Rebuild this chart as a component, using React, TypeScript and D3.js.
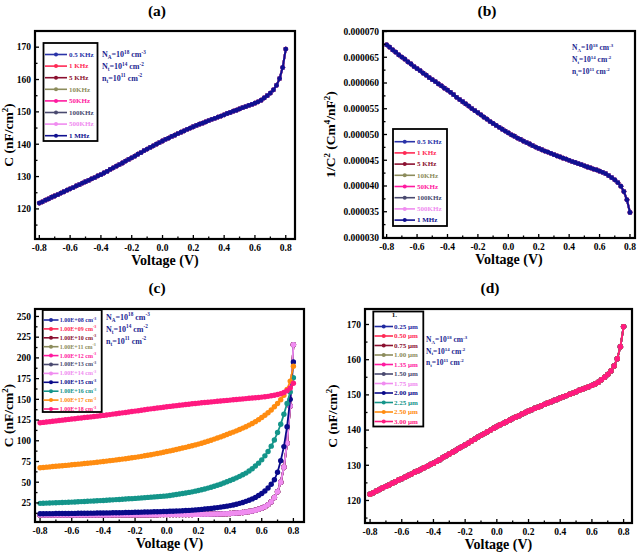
import React from 'react';
import * as d3 from 'd3';

const FONT = '"Liberation Serif", "Times New Roman", serif';

// ---------- DATA ----------
// bias voltage grid (V), step 0.02 from -0.8 to 0.8
const voltage: number[] = d3.range(81).map((i) => +(-0.8 + 0.02 * i).toFixed(2));

// C (nF/cm2) for the base cell (panels a, d and NA=1e18 in c)
const capBase: number[] = [
  121.8, 122.2, 122.7, 123.1, 123.6, 124.0, 124.4, 124.9, 125.3, 125.8,
  126.2, 126.6, 127.1, 127.5, 128.0, 128.4, 128.8, 129.3, 129.7, 130.2,
  130.6, 131.1, 131.6, 132.2, 132.7, 133.2, 133.7, 134.2, 134.8, 135.3,
  135.8, 136.3, 136.9, 137.4, 138.0, 138.5, 139.0, 139.5, 140.0, 140.5,
  141.0, 141.5, 141.9, 142.4, 142.8, 143.3, 143.7, 144.1, 144.6, 145.0,
  145.4, 145.8, 146.2, 146.5, 146.9, 147.3, 147.7, 148.0, 148.4, 148.7,
  149.1, 149.5, 149.8, 150.2, 150.5, 150.9, 151.3, 151.6, 152.0, 152.3,
  152.7, 153.1, 153.6, 154.3, 155.0, 155.8, 156.8, 158.2, 160.3, 163.7,
  169.4,
];
const cap1e17: number[] = [
  67.5, 67.8, 68.2, 68.5, 68.9, 69.2, 69.6, 69.9, 70.3, 70.6,
  71.0, 71.4, 71.8, 72.1, 72.5, 72.9, 73.3, 73.7, 74.1, 74.6,
  75.0, 75.5, 76.0, 76.4, 76.9, 77.4, 77.9, 78.4, 78.9, 79.5,
  80.0, 80.6, 81.2, 81.9, 82.5, 83.2, 83.9, 84.7, 85.4, 86.2,
  87.0, 87.8, 88.6, 89.4, 90.3, 91.2, 92.1, 93.1, 94.0, 95.0,
  96.0, 97.1, 98.3, 99.5, 100.7, 102.0, 103.3, 104.7, 106.1, 107.5,
  109.0, 110.5, 112.0, 113.6, 115.3, 117.0, 118.9, 120.9, 123.1, 125.5,
  128.0, 130.8, 133.8, 137.2, 141.0, 145.0, 149.5, 155.0, 162.0, 172.0,
  190.0,
];
const cap1e16: number[] = [
  24.5, 24.6, 24.8, 24.9, 25.1, 25.2, 25.4, 25.5, 25.7, 25.8,
  26.0, 26.2, 26.4, 26.6, 26.8, 27.0, 27.2, 27.4, 27.6, 27.8,
  28.0, 28.2, 28.5, 28.7, 29.0, 29.2, 29.5, 29.7, 30.0, 30.2,
  30.5, 30.8, 31.1, 31.4, 31.7, 32.0, 32.3, 32.6, 32.9, 33.2,
  33.5, 34.0, 34.5, 35.1, 35.7, 36.3, 37.0, 37.7, 38.4, 39.2,
  40.0, 40.9, 41.9, 42.9, 44.0, 45.1, 46.3, 47.6, 49.0, 50.5,
  52.0, 53.6, 55.3, 57.1, 59.0, 61.0, 63.5, 66.2, 69.5, 73.0,
  77.0, 81.8, 87.0, 93.5, 101.0, 110.0, 120.0, 132.0, 145.0, 159.0,
  176.0,
];
const cap1e15: number[] = [
  12.0, 12.0, 12.1, 12.1, 12.1, 12.2, 12.2, 12.2, 12.3, 12.3,
  12.4, 12.4, 12.5, 12.5, 12.6, 12.6, 12.7, 12.7, 12.8, 12.8,
  12.9, 13.0, 13.0, 13.1, 13.2, 13.2, 13.3, 13.4, 13.5, 13.6,
  13.7, 13.8, 13.9, 14.0, 14.1, 14.2, 14.3, 14.4, 14.5, 14.6,
  14.7, 14.9, 15.0, 15.2, 15.4, 15.6, 15.8, 16.0, 16.3, 16.6,
  16.9, 17.2, 17.6, 18.0, 18.4, 18.9, 19.4, 19.9, 20.5, 21.1,
  21.8, 22.6, 23.5, 24.5, 25.6, 26.9, 28.3, 29.9, 31.7, 33.9,
  36.4, 39.4, 43.0, 47.5, 53.0, 62.0, 76.0, 93.0, 117.0, 150.0,
  195.0,
];
// NA = 1e8 ... 1e14 cm-3 (curves coincide)
const capLow: number[] = [
  10.5, 10.5, 10.5, 10.5, 10.5, 10.5, 10.5, 10.5, 10.5, 10.5,
  10.5, 10.5, 10.5, 10.5, 10.5, 10.5, 10.5, 10.5, 10.5, 10.5,
  10.5, 10.5, 10.5, 10.6, 10.6, 10.6, 10.6, 10.6, 10.7, 10.7,
  10.7, 10.7, 10.7, 10.8, 10.8, 10.8, 10.8, 10.8, 10.9, 10.9,
  10.9, 10.9, 11.0, 11.0, 11.0, 11.0, 11.1, 11.1, 11.1, 11.2,
  11.2, 11.3, 11.3, 11.4, 11.5, 11.6, 11.7, 11.8, 11.9, 12.1,
  12.3, 12.5, 12.8, 13.1, 13.5, 14.0, 14.6, 15.3, 16.2, 17.3,
  18.7, 20.5, 23.0, 26.5, 31.5, 38.5, 50.0, 68.0, 97.0, 142.0,
  216.0,
];
// 1/C^2 of the base cell (panel b)
const invC2: number[] = capBase.map((c) => 1 / (c * c));

// legends
const freqLabels = ['0.5 KHz', '1 KHz', '5 KHz', '10KHz', '50KHz', '100KHz', '500KHz', '1 MHz'];
const freqColors = ['#2a33a8', '#ff2a55', '#8b1030', '#8c8c5c', '#ff1aa0', '#4a4a70', '#f08cf0', '#101090'];
const dopExps = ['08', '09', '10', '11', '12', '13', '14', '15', '16', '17', '18'];
const dopColors = ['#1f2aa0', '#ff2a55', '#8b1030', '#8c8c5c', '#ff1aa0', '#4a4a70', '#f08cf0', '#0a0a8a', '#14958a', '#ff8c10', '#ff1a80'];
const thickLabels = ['0.25 µm', '0.50 µm', '0.75 µm', '1.00 µm', '1.35 µm', '1.50 µm', '1.75 µm', '2.00 µm', '2.25 µm', '2.50 µm', '3.00 µm'];
const thickColors = ['#1f2aa0', '#ff2a55', '#8b1030', '#8c8c5c', '#ff1aa0', '#4a4a70', '#f08cf0', '#0a0a8a', '#14958a', '#ff8c10', '#ff1a80'];

// tick values
const xTicks = [-0.8, -0.6, -0.4, -0.2, 0.0, 0.2, 0.4, 0.6, 0.8];
const yTicksA = [120, 130, 140, 150, 160, 170];
const yTicksB = [0.00003, 0.000035, 0.00004, 0.000045, 0.00005, 0.000055, 0.00006, 0.000065, 0.00007];
const yTicksC = [25, 50, 75, 100, 125, 150, 175, 200, 225, 250];

// ---------- helpers ----------
type Seg = [string, '' | 'sub' | 'sup'];

function Rich({ x, y, segs, fs, fill = '#000', anchor = 'start', transform }: any) {
  let cur = 0;
  return (
    <text x={x} y={y} fontSize={fs} fill={fill} textAnchor={anchor} fontFamily={FONT} fontWeight="bold" transform={transform}>
      {(segs as Seg[]).map(([t, k], i) => {
        const target = k === 'sup' ? -fs * 0.4 : k === 'sub' ? fs * 0.25 : 0;
        const dy = target - cur;
        cur = target;
        return (
          <tspan key={i} dy={dy} fontSize={k ? fs * 0.65 : fs}>
            {t}
          </tspan>
        );
      })}
    </text>
  );
}

const annA: Seg[] = [['N', ''], ['A', 'sub'], ['=10', ''], ['18', 'sup'], [' cm', ''], ['-3', 'sup']];
const annT: Seg[] = [['N', ''], ['t', 'sub'], ['=10', ''], ['14', 'sup'], [' cm', ''], ['-2', 'sup']];
const annN: Seg[] = [['n', ''], ['t', 'sub'], ['=10', ''], ['11', 'sup'], [' cm', ''], ['-2', 'sup']];
const capLabel: Seg[] = [['C (nF/cm', ''], ['2', 'sup'], [')', '']];
const invLabel: Seg[] = [['1/C', ''], ['2', 'sup'], [' (Cm', ''], ['4', 'sup'], ['/nF', ''], ['2', 'sup'], [')', '']];

function minorOf(ticks: number[], dom: number[]) {
  const step = ticks[1] - ticks[0];
  const out: number[] = [];
  const lo = Math.min(dom[0], dom[1]);
  const hi = Math.max(dom[0], dom[1]);
  for (let i = -1; i < ticks.length; i++) {
    const v = (i < 0 ? ticks[0] - step : ticks[i]) + step / 2;
    if (v >= lo && v <= hi) out.push(v);
  }
  return out;
}

function Panel(p: any) {
  const { frame, xDomain, yDomain, yTicks, yFmt, series, r, sw, legend, ann, title, yLabel, yLabelX } = p;
  const [x0, y0, x1, y1] = frame;
  const xs = d3.scaleLinear().domain(xDomain).range([x0, x1]);
  const ys = d3.scaleLinear().domain(yDomain).range([y1, y0]);
  const line = d3
    .line<number>()
    .x((_, i) => xs(voltage[i]))
    .y((d) => ys(d));
  const xMin = minorOf(xTicks, xDomain);
  const yMin = minorOf(yTicks, yDomain);
  const cy = (y0 + y1) / 2;
  return (
    <g>
      <text x={title.x} y={title.y} fontSize={15.5} fontWeight="bold" fontFamily={FONT} textAnchor="middle">
        {title.t}
      </text>
      {series.map((s: any, k: number) => (
        <g key={k}>
          <path d={line(s.values) || ''} fill="none" stroke={s.color} strokeWidth={sw} />
          {s.values.map((v: number, i: number) => (
            <circle key={i} cx={xs(voltage[i])} cy={ys(v)} r={r} fill={s.color} />
          ))}
        </g>
      ))}
      {/* ticks */}
      {xTicks.map((t) => (
        <line key={'xt' + t} x1={xs(t)} x2={xs(t)} y1={y1} y2={y1 - 4} stroke="#000" strokeWidth={1.3} />
      ))}
      {xMin.map((t) => (
        <line key={'xm' + t} x1={xs(t)} x2={xs(t)} y1={y1} y2={y1 - 2.5} stroke="#000" strokeWidth={1.3} />
      ))}
      {yTicks.map((t: number) => (
        <line key={'yt' + t} x1={x0} x2={x0 + 4} y1={ys(t)} y2={ys(t)} stroke="#000" strokeWidth={1.3} />
      ))}
      {yMin.map((t: number) => (
        <line key={'ym' + t} x1={x0} x2={x0 + 2.5} y1={ys(t)} y2={ys(t)} stroke="#000" strokeWidth={1.3} />
      ))}
      <rect x={x0} y={y0} width={x1 - x0} height={y1 - y0} fill="none" stroke="#000" strokeWidth={2.2} />
      {xTicks.map((t) => (
        <text key={'xl' + t} x={xs(t)} y={y1 + 12} fontSize={9.5} fontWeight="bold" fontFamily={FONT} textAnchor="middle">
          {t.toFixed(1)}
        </text>
      ))}
      {yTicks.map((t: number) => (
        <text key={'yl' + t} x={x0 - 4} y={ys(t) + 3.3} fontSize={9.5} fontWeight="bold" fontFamily={FONT} textAnchor="end">
          {yFmt(t)}
        </text>
      ))}
      <text x={(x0 + x1) / 2} y={y1 + 26} fontSize={14} fontWeight="bold" fontFamily={FONT} textAnchor="middle">
        Voltage (V)
      </text>
      <Rich x={yLabelX} y={cy} segs={yLabel} fs={13.5} anchor="middle" transform={`rotate(-90 ${yLabelX} ${cy})`} />
      {/* legend */}
      <rect x={legend.box[0]} y={legend.box[1]} width={legend.box[2]} height={legend.box[3]} fill="#fff" stroke="#000" strokeWidth={1.8} />
      {legend.header && (
        <text x={legend.box[0] + legend.box[2] / 2 - 4} y={legend.header.y} fontSize={legend.fs} fontWeight="bold" fontFamily={FONT} textAnchor="middle">
          {legend.header.t}
        </text>
      )}
      {legend.entries.map((e: any, i: number) => {
        const ly = legend.firstY + i * legend.dy;
        return (
          <g key={i}>
            <line x1={legend.lx0} x2={legend.lx1} y1={ly} y2={ly} stroke={e.color} strokeWidth={1.6} />
            <circle cx={(legend.lx0 + legend.lx1) / 2} cy={ly} r={legend.r} fill={e.color} />
            <Rich x={legend.tx} y={ly + legend.fs * 0.33} segs={e.segs} fs={legend.fs} fill={e.color} />
          </g>
        );
      })}
      {[annA, annT, annN].map((s, i) => (
        <Rich key={i} x={ann.x} y={ann.y + i * ann.dy} segs={s} fs={ann.fs} fill="#1a2590" />
      ))}
    </g>
  );
}

export default function App() {
  const fmtInt = (v: number) => String(v);
  const fmtB = d3.format('.6f');

  const seriesA = freqColors.map((c) => ({ values: capBase, color: c }));
  const seriesB = freqColors.map((c) => ({ values: invC2, color: c }));
  const dopValues = [capLow, capLow, capLow, capLow, capLow, capLow, capLow, cap1e15, cap1e16, cap1e17, capBase];
  const seriesC = dopColors.map((c, i) => ({ values: dopValues[i], color: c }));
  const seriesD = thickColors.map((c) => ({ values: capBase, color: c }));

  const freqEntries = freqLabels.map((l, i) => ({ segs: [[l, '']], color: freqColors[i] }));
  const dopEntries = dopExps.map((e, i) => ({ segs: [[`1.00E+${e} cm`, ''], ['-3', 'sup']], color: dopColors[i] }));
  const thickEntries = thickLabels.map((l, i) => ({ segs: [[l, '']], color: thickColors[i] }));

  return (
    <svg width={640} height={554} style={{ position: 'absolute', left: 0, top: 0, background: '#fff' }}>
      <rect x={0} y={0} width={640} height={554} fill="#fff" />
      <Panel
        frame={[35, 31, 295, 239]}
        xDomain={[-0.828, 0.86]}
        yDomain={[110.7, 175]}
        yTicks={yTicksA}
        yFmt={fmtInt}
        series={seriesA}
        r={2.4}
        sw={2}
        title={{ t: '(a)', x: 157, y: 16 }}
        yLabel={capLabel}
        yLabelX={13}
        legend={{ box: [43.5, 43, 54, 98], firstY: 54.5, dy: 11.6, lx0: 45, lx1: 67, tx: 69, fs: 7, r: 2, entries: freqEntries }}
        ann={{ x: 102, y: 57, dy: 11.8, fs: 8 }}
      />
      <Panel
        frame={[383, 31, 635, 238]}
        xDomain={[-0.824, 0.833]}
        yDomain={[0.0000299, 0.0000701]}
        yTicks={yTicksB}
        yFmt={fmtB}
        series={seriesB}
        r={2.4}
        sw={2}
        title={{ t: '(b)', x: 487, y: 16 }}
        yLabel={invLabel}
        yLabelX={335}
        legend={{ box: [393, 129, 54, 97], firstY: 141.7, dy: 11.2, lx0: 394.5, lx1: 415, tx: 417, fs: 7, r: 2, entries: freqEntries }}
        ann={{ x: 572, y: 50, dy: 12, fs: 7.5 }}
      />
      <Panel
        frame={[35, 309, 304, 522]}
        xDomain={[-0.832, 0.867]}
        yDomain={[2, 259]}
        yTicks={yTicksC}
        yFmt={fmtInt}
        series={seriesC}
        r={2.7}
        sw={1.8}
        title={{ t: '(c)', x: 157, y: 293 }}
        yLabel={capLabel}
        yLabelX={13}
        legend={{ box: [42.7, 310, 59, 102], firstY: 320, dy: 8.9, lx0: 43.5, lx1: 58.5, tx: 59.8, fs: 6, r: 2, entries: dopEntries }}
        ann={{ x: 106, y: 319.5, dy: 12, fs: 8 }}
      />
      <Panel
        frame={[365, 309, 632, 523]}
        xDomain={[-0.832, 0.853]}
        yDomain={[113.6, 174.4]}
        yTicks={yTicksA}
        yFmt={fmtInt}
        series={seriesD}
        r={2.7}
        sw={1.8}
        title={{ t: '(d)', x: 490, y: 293 }}
        yLabel={capLabel}
        yLabelX={337}
        legend={{
          box: [373.3, 311.5, 50, 115],
          header: { t: '1.', y: 317 },
          firstY: 326.5,
          dy: 9.5,
          lx0: 374.5,
          lx1: 393,
          tx: 394,
          fs: 7,
          r: 2,
          entries: thickEntries,
        }}
        ann={{ x: 426, y: 342, dy: 11.5, fs: 7.5 }}
      />
    </svg>
  );
}
